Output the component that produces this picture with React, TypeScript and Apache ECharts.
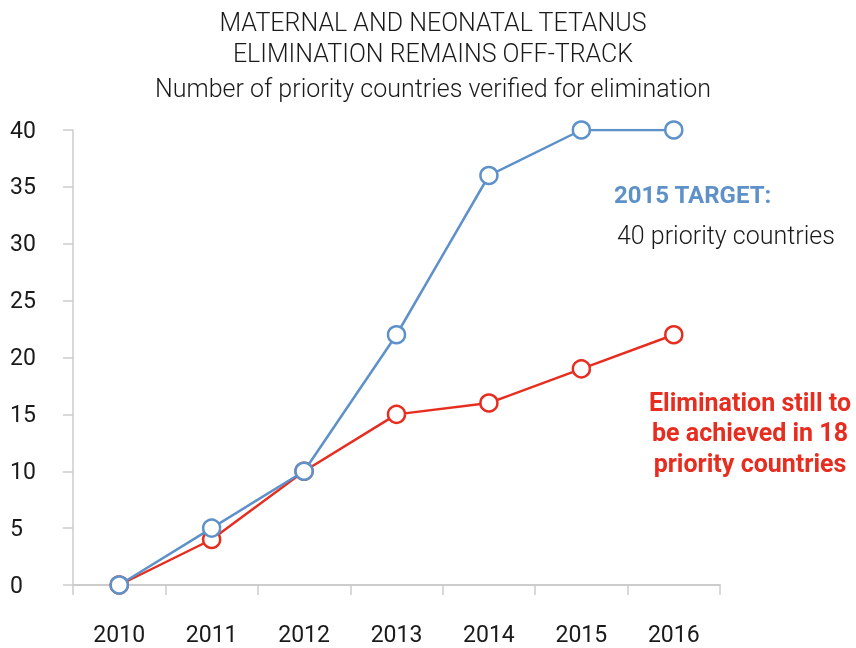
import React, { useEffect, useRef } from "react";
import * as echarts from "echarts";

const years = ["2010", "2011", "2012", "2013", "2014", "2015", "2016"];
const targetValues = [0, 5, 10, 22, 36, 40, 40];
const actualValues = [0, 4, 10, 15, 16, 19, 22];
const titleLines = ["MATERNAL AND NEONATAL TETANUS", "ELIMINATION REMAINS OFF-TRACK"];
const subtitle = "Number of priority countries verified for elimination";

const BLUE = "#5e91c9";
const RED = "#e62d1f";
const FONT = "Roboto, 'DejaVu Sans', sans-serif";

export default function App() {
  const ref = useRef<HTMLDivElement>(null);
  useEffect(() => {
    if (!ref.current) return;
    const chart = echarts.init(ref.current, null, { renderer: "svg" });
    const marker = (color: string) => ({
      type: "line",
      symbol: "circle",
      symbolSize: 17,
      showAllSymbol: true,
      lineStyle: { color, width: 2.5 },
      itemStyle: { color: "#ffffff", borderColor: color, borderWidth: 2.5 },
    });
    const titleText = (text: string, y: number) => ({
      type: "text",
      x: 433,
      y,
      style: {
        text,
        fill: "#1a1a1a",
        font: `300 25px ${FONT}`,
        align: "center",
        verticalAlign: "middle",
      },
    });
    chart.setOption({
      animation: false,
      textStyle: { fontFamily: FONT },
      grid: { left: 73, right: 136, top: 130, bottom: 63, containLabel: false },
      xAxis: {
        type: "category",
        data: years,
        boundaryGap: true,
        axisLine: { lineStyle: { color: "#cccccc", width: 2 } },
        axisTick: { show: true, length: 10, lineStyle: { color: "#cccccc", width: 1.5 } },
        axisLabel: { color: "#1a1a1a", fontSize: 23, margin: 38, fontFamily: FONT },
        splitLine: { show: false },
      },
      yAxis: {
        type: "value",
        min: 0,
        max: 40,
        interval: 5,
        axisLine: { show: true, lineStyle: { color: "#cccccc", width: 1.5 } },
        axisTick: { show: true, length: 10, lineStyle: { color: "#cccccc", width: 1.5 } },
        axisLabel: { color: "#1a1a1a", fontSize: 23, margin: 63, align: "left", fontFamily: FONT },
        splitLine: { show: false },
      },
      series: [
        { ...marker(RED), name: "Actual", data: actualValues, z: 2 },
        { ...marker(BLUE), name: "Target", data: targetValues, z: 3 },
      ],
      graphic: [
        titleText(titleLines[0], 22),
        titleText(titleLines[1], 53),
        titleText(subtitle, 88),
        {
          type: "text",
          x: 614,
          y: 195,
          style: { text: "2015 TARGET:", fill: BLUE, font: `bold 24px ${FONT}`, verticalAlign: "middle" },
        },
        {
          type: "text",
          x: 617,
          y: 235,
          style: { text: "40 priority countries", fill: "#1a1a1a", font: `300 25px ${FONT}`, verticalAlign: "middle" },
        },
        {
          type: "text",
          x: 750,
          y: 387,
          style: {
            text: "Elimination still to\nbe achieved in 18\npriority countries",
            fill: RED,
            font: `bold 25px ${FONT}`,
            align: "center",
            verticalAlign: "top",
            lineHeight: 30.5,
          },
        },
      ],
    });
    return () => chart.dispose();
  }, []);
  return (
    <div
      ref={ref}
      style={{ width: 856, height: 648, position: "fixed", left: 0, top: 0 }}
    />
  );
}
